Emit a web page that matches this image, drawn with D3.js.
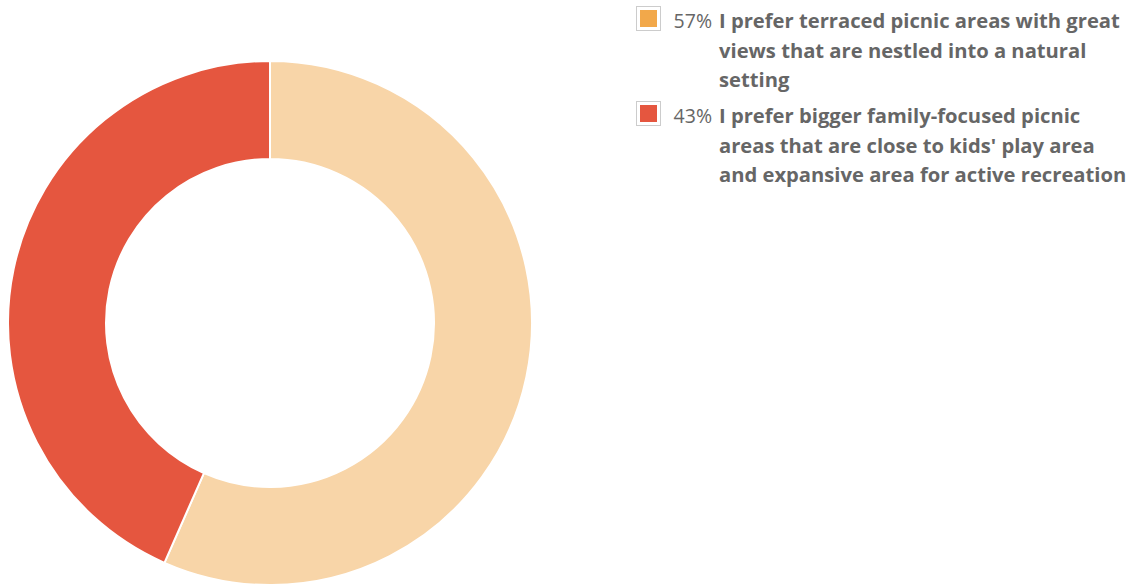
<!DOCTYPE html>
<html>
<head>
<meta charset="utf-8">
<script src="https://cdn.jsdelivr.net/npm/d3@7"></script>
<style>
  html, body { margin: 0; padding: 0; background: #fff; }
  svg { display: block; }
</style>
</head>
<body>
<svg id="chart" width="1138" height="588"></svg>
<script>
const categories = [
  "I prefer terraced picnic areas with great views that are nestled into a natural setting",
  "I prefer bigger family-focused picnic areas that are close to kids' play area and expansive area for active recreation"
];
const values = [56.6, 43.4];
const labelLines = [
  ["I prefer terraced picnic areas with great", "views that are nestled into a natural", "setting"],
  ["I prefer bigger family-focused picnic", "areas that are close to kids' play area", "and expansive area for active recreation"]
];
const sliceColors = ["#f8d5a8", "#e5563f"];
const swatchColors = ["#f2a84a", "#e5563f"];

const svg = d3.select("#chart");
const cx = 270, cy = 323, outerR = 262, innerR = 164;

const pie = d3.pie().sort(null).value(d => d)(values);
const arc = d3.arc().innerRadius(innerR).outerRadius(outerR);

svg.append("g")
  .attr("transform", `translate(${cx},${cy})`)
  .selectAll("path")
  .data(pie)
  .join("path")
  .attr("d", arc)
  .attr("fill", (d, i) => sliceColors[i])
  .attr("stroke", "#fff")
  .attr("stroke-width", 2);

const legend = svg.append("g").attr("transform", "translate(636,6)");
const lineH = 29.5;
const itemTops = [0, 95];
const fmt = d3.format(".0f");

values.forEach((v, i) => {
  const g = legend.append("g").attr("transform", `translate(0,${itemTops[i]})`);
  g.append("rect").attr("x", 0.5).attr("y", 0.5).attr("width", 24).attr("height", 24)
    .attr("fill", "#fff").attr("stroke", "#ccc").attr("stroke-width", 1);
  g.append("rect").attr("x", 4).attr("y", 4).attr("width", 17).attr("height", 17)
    .attr("fill", swatchColors[i]);
  g.append("text")
    .attr("x", 76).attr("y", 22)
    .attr("text-anchor", "end")
    .style("font-family", "'Open Sans', sans-serif")
    .style("font-size", "19.5px")
    .style("fill", "#666")
    .text(fmt(v) + "%");
  const t = g.append("text")
    .style("font-family", "'Open Sans', sans-serif")
    .style("font-size", "20.2px")
    .style("font-weight", "bold")
    .style("fill", "#666");
  labelLines[i].forEach((ln, j) => {
    t.append("tspan").attr("x", 83).attr("y", 22 + j * lineH).text(ln);
  });
});
</script>
</body>
</html>
